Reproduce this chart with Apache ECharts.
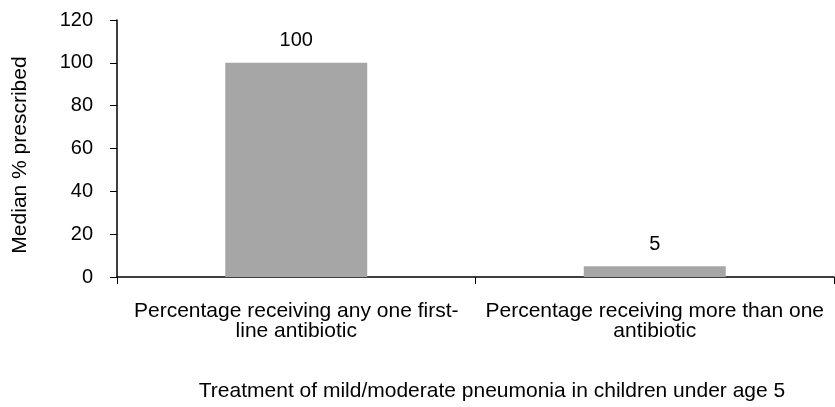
<!DOCTYPE html>
<html><head><meta charset="utf-8">
<script src="https://cdn.jsdelivr.net/npm/echarts@6/dist/echarts.min.js"></script>
<style>html,body{margin:0;padding:0;background:#fff}#c{width:835px;height:407px}</style>
</head><body><div id="c"></div>
<script>
const categories = ["Percentage receiving any one first-\nline antibiotic", "Percentage receiving more than one\nantibiotic"];
const values = [100, 5];
const yTicks = {min: 0, max: 120, interval: 20};
const yName = "Median % prescribed";
const xName = "Treatment of mild/moderate pneumonia in children under age 5";

const font = "'Liberation Sans', Arial, sans-serif";
const chart = echarts.init(document.getElementById('c'));
chart.setOption({
  animation: false,
  grid: {left: 117, right: 1, top: 20, bottom: 130, containLabel: false},
  xAxis: {
    type: 'category', data: categories,
    name: xName, nameLocation: 'middle', nameGap: 104,
    nameTextStyle: {fontFamily: font, fontSize: 21, color: '#000', padding: [0, 0, 0, 33]},
    axisLine: {lineStyle: {color: '#000', width: 1.5}},
    axisTick: {show: true, length: 7, alignWithLabel: false, lineStyle: {color: '#000'}},
    axisLabel: {interval: 0, margin: 24, fontFamily: font, fontSize: 21, color: '#000', lineHeight: 20}
  },
  yAxis: {
    type: 'value', min: yTicks.min, max: yTicks.max, interval: yTicks.interval,
    name: yName, nameLocation: 'middle', nameGap: 86,
    nameTextStyle: {fontFamily: font, fontSize: 21, color: '#000', padding: [0, 13, 0, 0]},
    splitLine: {show: false},
    axisLine: {show: true, lineStyle: {color: '#000', width: 1.5}},
    axisTick: {show: true, length: 7, lineStyle: {color: '#000'}},
    axisLabel: {margin: 24, fontFamily: font, fontSize: 20, color: '#000'}
  },
  series: [{
    type: 'bar', data: values, barWidth: '39.6%',
    itemStyle: {color: '#A6A6A6'},
    label: {show: true, position: 'top', distance: 12, fontFamily: font, fontSize: 20, color: '#000'}
  }]
});
</script></body></html>
